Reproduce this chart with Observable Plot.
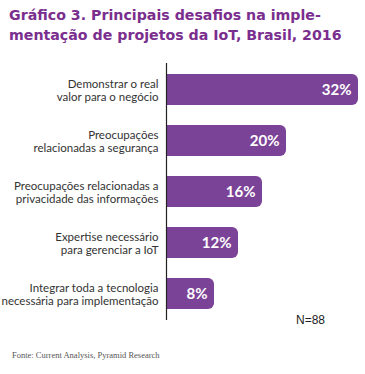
<!DOCTYPE html>
<html>
<head>
<meta charset="utf-8">
<script src="https://cdn.jsdelivr.net/npm/d3@7"></script>
<script src="https://cdn.jsdelivr.net/npm/@observablehq/plot@0.6"></script>
<style>
  html, body { margin: 0; padding: 0; background: #fff; }
  #wrap { position: relative; width: 365px; height: 374px; overflow: hidden; }
  #title { position: absolute; left: 9px; top: 5px; white-space: nowrap; font-family: "DejaVu Sans", sans-serif; font-weight: bold; font-size: 14.2px; line-height: 20px; color: #7a2e8e; }
  #chart { position: absolute; left: 0; top: 58px; }
  #n { position: absolute; left: 296px; top: 313px; font-family: "Liberation Sans", Arial, sans-serif; font-size: 12px; color: #222; }
  #src { position: absolute; left: 12px; top: 350px; font-family: "Liberation Serif", serif; font-size: 8.5px; color: #555; }
</style>
</head>
<body>
<div id="wrap">
  <div id="title">Gráfico 3. Principais desafios na imple-<br>mentação de projetos da IoT, Brasil, 2016</div>
  <div id="chart"></div>
  <div id="n">N=88</div>
  <div id="src">Fonte: Current Analysis, Pyramid Research</div>
</div>
<script>
const categories = [
  "Demonstrar o real\nvalor para o negócio",
  "Preocupações\nrelacionadas a segurança",
  "Preocupações relacionadas a\nprivacidade das informações",
  "Expertise necessário\npara gerenciar a IoT",
  "Integrar toda a tecnologia\nnecessária para implementação"
];
const values = [32, 20, 16, 12, 8];
const valueLabels = ["32%", "20%", "16%", "12%", "8%"];

const data = categories.map((c, i) => ({category: c, value: values[i], label: valueLabels[i]}));
const purple = "#7b4397";

const chart = Plot.plot({
  width: 365,
  height: 268,
  marginLeft: 166,
  marginRight: 7,
  marginTop: 5,
  marginBottom: 6,
  style: {fontFamily: "Lato, sans-serif", background: "transparent"},
  x: {domain: [0, 32], axis: null},
  y: {domain: categories, axis: null, paddingInner: 0.39, paddingOuter: 0.2},
  marks: [
    Plot.barX(data, {y: "category", x1: 0, x2: "value", fill: purple, rx: 6}),
    Plot.barX(data, {y: "category", x1: 0, x2: d => d.value / 2, fill: purple}),
    Plot.text(data, {y: "category", x: 0, text: "category", textAnchor: "end", dx: -8, fontSize: 11.5, fill: "#333", lineHeight: 1.2}),
    Plot.text(data, {y: "category", x: "value", text: "label", textAnchor: "end", dx: -7, fontSize: 15, fontWeight: "bold", fill: "#fff"}),
    Plot.ruleX([0], {stroke: "#222", strokeWidth: 1.2})
  ]
});
document.getElementById("chart").appendChild(chart);
</script>
</body>
</html>
